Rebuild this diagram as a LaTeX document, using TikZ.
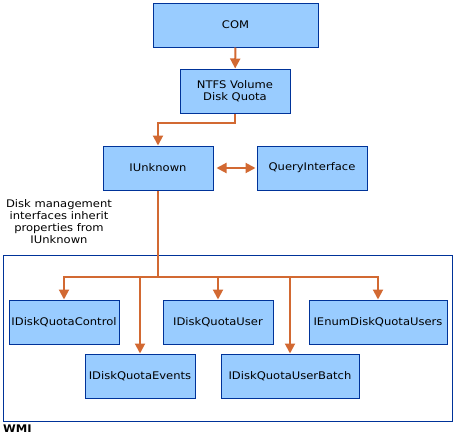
\documentclass[tikz,border=0pt]{standalone}
\usepackage{fontspec}
\setmainfont[FakeStretch=1.1]{DejaVu Sans}
\usetikzlibrary{arrows.meta}
\definecolor{boxfill}{RGB}{153,204,255}
\definecolor{boxline}{RGB}{0,51,153}
\definecolor{flowline}{RGB}{210,105,50}
\tikzset{
  iface/.style={draw=boxline, fill=boxfill, line width=1pt, minimum width=110pt,
    minimum height=44pt, inner sep=0pt, font=\fontsize{10.5}{12}\selectfont, align=center},
  flow/.style={draw=flowline, line width=2pt, -{Triangle[width=10pt,length=10pt]}},
}
\begin{document}
\begin{tikzpicture}[x=1pt,y=-1pt]
            \useasboundingbox (0,0) rectangle (456,434);
            \draw[boxline, line width=1pt] (3,255) rectangle (452,421);%WMI
            \node[anchor=base west, inner sep=0pt, font=\fontsize{10.5}{12}\selectfont\bfseries] (wmi) at (3,432.5) {WMI};
            \node[iface, minimum width=165pt] (com) at (235.5,25) {COM};
            \node[iface] (ntfs) at (235,91) {NTFS Volume\\Disk Quota};
            \node[iface] (iunk) at (158,168) {IUnknown};
            \node[iface] (qi) at (312,168) {QueryInterface};
            \node[align=center, font=\fontsize{10.5}{12}\selectfont] (note) at (59,222)
               {Disk management\\interfaces inherit\\properties from\\IUnknown};
            \node[iface] (ctrl) at (64,322) {IDiskQuotaControl};
            \node[iface] (user) at (218,322) {IDiskQuotaUser};
            \node[iface, minimum width=138pt] (enum) at (378,322) {IEnumDiskQuotaUsers};
            \node[iface] (evts) at (140,376) {IDiskQuotaEvents};
            \node[iface, minimum width=138pt] (batch) at (290,376) {IDiskQuotaUserBatch};
            \coordinate (hub) at (158,277);
            \draw[flow] (com) -- (ntfs);
            \draw[flow] (ntfs.south) -- ++(0,9) -| (iunk.north);
            \draw[flow, {Triangle[width=10pt,length=10pt]}-{Triangle[width=10pt,length=10pt]},
               shorten <=3pt, shorten >=1pt] (iunk) -- (qi);
            \draw[flowline, line width=2pt] (iunk.south) -- (hub);
            \foreach \n in {ctrl,evts,user,batch,enum}
               \draw[flow] (hub) -| (\n.north);
        \end{tikzpicture}
\end{document}
